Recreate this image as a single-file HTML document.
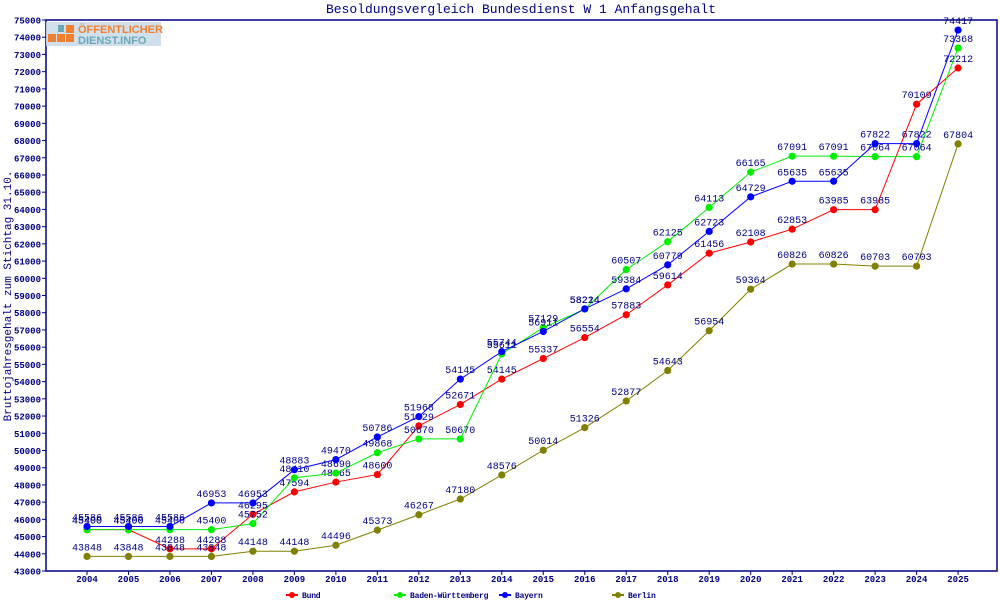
<!DOCTYPE html>
<html><head><meta charset="utf-8"><style>
body{margin:0;background:#fff;}
svg text{font-family:"Liberation Mono","DejaVu Sans Mono",monospace;fill:#000080;}
</style></head><body>
<svg id="s" width="1000" height="600" xmlns="http://www.w3.org/2000/svg">
<rect x="0" y="0" width="1000" height="600" fill="#fff"/>
<text x="521" y="13" font-size="13" text-anchor="middle">Besoldungsvergleich Bundesdienst W 1 Anfangsgehalt</text>
<text transform="translate(11,296) rotate(-90)" font-size="11" text-anchor="middle">Bruttojahresgehalt zum Stichtag 31.10.</text>
<rect x="46" y="20" width="951" height="551" fill="none" stroke="#000080" stroke-width="1.5"/>
<g id="g"></g>
<rect x="46" y="22" width="115" height="24" fill="#c9d9e6" opacity="0.85"/>
<rect x="48" y="34" width="8" height="8" fill="#f08030"/><rect x="57" y="34" width="8" height="8" fill="#f08030"/><rect x="66" y="34" width="8" height="8" fill="#f08030"/><rect x="66" y="25" width="8" height="8" fill="#f08030"/><rect x="58" y="25" width="6" height="7" fill="#6aa8b8"/>
<text x="78" y="33" font-size="11" font-weight="bold" style="fill:#f08030;font-family:'Liberation Sans',sans-serif">ÖFFENTLICHER</text>
<text x="78" y="44" font-size="11" font-weight="bold" style="fill:#6aa8b8;font-family:'Liberation Sans',sans-serif">DIENST.INFO</text>
</svg>
<script>
var g=document.getElementById('g'),h='';
function X(i){return 87+i*41.48;}
function Y(v){return 571-(v-43000)*551/32000;}
for(var v=43000;v<=75000;v+=1000){var y=Y(v);h+='<line x1="42" x2="46" y1="'+y+'" y2="'+y+'" stroke="#000080"/><text x="41" y="'+(y+3.5)+'" font-size="9" font-weight="bold" text-anchor="end">'+v+'</text>';}
for(var i=0;i<22;i++){h+='<line x1="'+X(i)+'" x2="'+X(i)+'" y1="571" y2="575" stroke="#000080"/><text x="'+X(i)+'" y="582" font-size="9" font-weight="bold" text-anchor="middle">'+(2004+i)+'</text>';}
var S=[
["#ff0000","Bund",[45400,45400,44288,44288,46295,47594,48165,48600,51429,52671,54145,55337,56554,57883,59614,61456,62108,62853,63985,63985,70109,72212]],
["#00ee00","Baden-Württemberg",[45400,45400,45400,45400,45752,48410,48690,49868,50670,50670,55611,57129,58214,60507,62125,64113,66165,67091,67091,67064,67064,73368]],
["#0000ff","Bayern",[45586,45586,45586,46953,46953,48883,49470,50786,51968,54145,55744,56911,58224,59384,60779,62723,64729,65635,65635,67822,67822,74417]],
["#808000","Berlin",[43848,43848,43848,43848,44148,44148,44496,45373,46267,47180,48576,50014,51326,52877,54643,56954,59364,60826,60826,60703,60703,67804]]];
var lx=[292,400,505,618];
S.forEach(function(s,k){var d=s[2],p='';
for(var i=0;i<22;i++)p+=(i?'L':'M')+X(i)+','+Y(d[i]);
h+='<path d="'+p+'" fill="none" stroke="'+s[0]+'" stroke-width="1"/>';
for(var i=0;i<22;i++){h+='<circle cx="'+X(i)+'" cy="'+Y(d[i])+'" r="3.6" fill="'+s[0]+'"/><text x="'+X(i)+'" y="'+(Y(d[i])-6)+'" font-size="10" text-anchor="middle">'+d[i]+'</text>';}
h+='<line x1="'+(lx[k]-6)+'" x2="'+(lx[k]+6)+'" y1="595" y2="595" stroke="'+s[0]+'" stroke-width="2"/><circle cx="'+lx[k]+'" cy="595" r="3" fill="'+s[0]+'"/><text x="'+(lx[k]+10)+'" y="598" font-size="8" font-weight="bold" letter-spacing="-0.2">'+s[1]+'</text>';
});
g.innerHTML=h;
</script>
</body></html>
